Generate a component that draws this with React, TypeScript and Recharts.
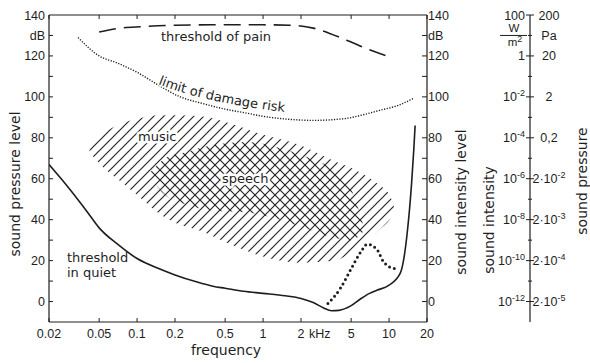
import React from 'react';
import { ComposedChart, Line, Area, XAxis, YAxis } from 'recharts';

const INK = '#1e1e1e';
const WORD_FONT = '"DejaVu Sans", sans-serif';
const NUM_FONT = '"Liberation Sans", Arial, sans-serif';

// frequency axis, kHz (log scale)
const freqTicks = [0.02, 0.05, 0.1, 0.2, 0.5, 1, 2, 5, 10, 20];
const freqLabels = ['0.02', '0.05', '0.1', '0.2', '0.5', '1', '2', '5', '10', '20'];

// level axes, dB
const levelTicks = [0, 10, 20, 30, 40, 50, 60, 70, 80, 90, 100, 110, 120, 130, 140];

// far right scale: sound intensity (W/m²) and sound pressure (Pa)
const intensityLabels = [
  { db: 140, base: '100', exp: '' },
  { db: 120, base: '1', exp: '' },
  { db: 100, base: '10', exp: '-2' },
  { db: 80, base: '10', exp: '-4' },
  { db: 60, base: '10', exp: '-6' },
  { db: 40, base: '10', exp: '-8' },
  { db: 20, base: '10', exp: '-10' },
  { db: 0, base: '10', exp: '-12' },
];
const pressureLabels = [
  { db: 140, base: '200', exp: '' },
  { db: 130, base: 'Pa', exp: '' },
  { db: 120, base: '20', exp: '' },
  { db: 100, base: '2', exp: '' },
  { db: 80, base: '0,2', exp: '' },
  { db: 60, base: '2·10', exp: '-2' },
  { db: 40, base: '2·10', exp: '-3' },
  { db: 20, base: '2·10', exp: '-4' },
  { db: 0, base: '2·10', exp: '-5' },
];

// threshold in quiet
const quietF = [0.02, 0.025, 0.03, 0.04, 0.05, 0.07, 0.1, 0.15, 0.2, 0.3, 0.4, 0.5, 0.7, 1, 1.5, 2, 2.5, 3, 3.5, 4, 5, 6, 7, 8, 10, 12.3, 13.9, 15.1, 15.7, 16.1];
const quietDb = [67, 60, 54, 44, 36, 28, 21, 16, 13, 9.5, 7.5, 6.5, 5, 4, 2.8, 1.5, -0.5, -3, -4.5, -4.3, -2, 1.5, 4, 5.5, 8, 14, 33, 58, 74, 86];

// threshold of pain
const painF = [0.05, 0.073, 0.11, 0.2, 0.4, 1, 1.63, 2.5, 4.6, 7, 10.7];
const painDb = [131.7, 133.6, 134.3, 135, 135.2, 135.2, 135, 133.6, 127.7, 123, 119];

// limit of damage risk
const damageF = [0.034, 0.05, 0.07, 0.1, 0.15, 0.22, 0.32, 0.5, 0.75, 1, 1.5, 2.5, 4.6, 6, 8.4, 12, 15.5];
const damageDb = [129, 120, 116.5, 112, 105.5, 100, 97, 94, 92, 90.5, 89.2, 88.5, 89.5, 91, 93.4, 96, 99.2];

// dotted curve near 5 kHz
const dipF = [3.27, 4.1, 5, 6, 6.7, 8, 9, 11, 11.5];
const dipDb = [-1, 6.4, 16, 24.5, 28, 25.5, 19.6, 16.2, 16.7];

// music area
const musicF = [0.042, 0.051, 0.073, 0.105, 0.15, 0.2, 0.32, 0.55, 0.94, 1.96, 3.7, 5.5, 8.3, 10.1, 11.1];
const musicLo = [73, 67, 59, 51, 43, 38.5, 34.5, 28, 22.5, 19, 20, 26, 35, 40, 44];
const musicHi = [75, 81, 86.5, 89.5, 91, 91, 90.5, 87, 82, 76.5, 68.5, 64, 57, 52, 45];

// speech area
const speechF = [0.127, 0.167, 0.24, 0.4, 0.75, 1.36, 2.36, 3.7, 5.0, 6.2];
const speechLo = [61, 52, 47.5, 44.5, 43.5, 40, 35, 31, 30, 34];
const speechHi = [63, 70, 73, 76.5, 78, 75, 70, 64, 55, 38];

const zip = (f: number[], v: number[]) => f.map((x, i) => ({ f: x, db: v[i] }));
const zipRange = (f: number[], lo: number[], hi: number[]) =>
  f.map((x, i) => ({ f: x, range: [lo[i], hi[i]] }));

const quiet = zip(quietF, quietDb);
const pain = zip(painF, painDb);
const damage = zip(damageF, damageDb);
const dip = zip(dipF, dipDb);
const music = zipRange(musicF, musicLo, musicHi);
const speech = zipRange(speechF, speechLo, speechHi);

const numText = { fontFamily: NUM_FONT, fontSize: 12.5, fill: INK };
const wordText = { fontFamily: WORD_FONT, fontSize: 13, fill: INK };
const titleText = { fontFamily: WORD_FONT, fontSize: 14, fill: INK };
// white halo so labels sit on a clear patch inside the hatching
const halo = { stroke: '#fff', strokeWidth: 5, paintOrder: 'stroke', strokeLinejoin: 'round' } as any;

const BottomTick = (props: any) => {
  const { x, y, payload } = props;
  const label = freqLabels[freqTicks.indexOf(payload.value)] ?? '';
  return (
    <g>
      <line x1={x} x2={x} y1={y} y2={y - 4} stroke={INK} />
      <text x={x} y={y + 16} textAnchor="middle" {...numText}>{label}</text>
      {label === '2' && <text x={x + 8} y={y + 16} {...numText}>kHz</text>}
    </g>
  );
};

const TopTick = (props: any) => {
  const { x, y } = props;
  return <line x1={x} x2={x} y1={y} y2={y + 4} stroke={INK} />;
};

const LeftTick = (props: any) => {
  const { x, y, payload } = props;
  const v = payload.value;
  return (
    <g>
      {v !== 140 && <line x1={x} x2={x + 4} y1={y} y2={y} stroke={INK} />}
      {v % 20 === 0 && (
        <text x={x - 4} y={y} dy="0.36em" textAnchor="end" {...numText}>{v}</text>
      )}
      {v === 130 && (
        <text x={x - 4} y={y} dy="0.36em" textAnchor="end" {...numText}>dB</text>
      )}
    </g>
  );
};

const RightTick = (props: any) => {
  const { x, y, payload } = props;
  const v = payload.value;
  return (
    <g>
      {v !== 140 && <line x1={x - 5} x2={x} y1={y} y2={y} stroke={INK} />}
      {v % 20 === 0 && (
        <text x={x + 1} y={y} dy="0.36em" {...numText}>{v}</text>
      )}
      {v === 130 && (
        <text x={x + 1} y={y} dy="0.36em" {...numText}>dB</text>
      )}
    </g>
  );
};

const Sup = ({ base, exp }: { base: string; exp: string }) => (
  <>
    {base}
    {exp && <tspan dy={-5} fontSize={9}>{exp}</tspan>}
  </>
);

const FarTick = (props: any) => {
  const { x, y, payload } = props;
  const v = payload.value;
  const major = v % 20 === 0;
  const left = intensityLabels.find((d) => d.db === v);
  const right = pressureLabels.find((d) => d.db === v);
  return (
    <g>
      <line x1={x - (major ? 4 : 2)} x2={x + (major ? 4 : 2)} y1={y} y2={y} stroke={INK} />
      {left && (
        <text x={x - 5} y={y} dy="0.36em" textAnchor="end" {...numText}>
          <Sup base={left.base} exp={left.exp} />
        </text>
      )}
      {v === 130 && (
        <g>
          <text x={x - 16} y={y - 3} textAnchor="middle" {...numText} fontSize={11.5}>W</text>
          <line x1={x - 30} x2={x - 3} y1={y} y2={y} stroke={INK} />
          <text x={x - 15} y={y + 11} textAnchor="middle" {...numText} fontSize={11.5}>
            m<tspan dy={-4} fontSize={9}>2</tspan>
          </text>
        </g>
      )}
      {right && (
        <text x={x + 19} y={y} dy="0.36em" textAnchor="middle" {...numText}>
          <Sup base={right.base} exp={right.exp} />
        </text>
      )}
    </g>
  );
};

export default function App() {
  return (
    <div style={{ position: 'absolute', left: 0, top: 0, width: 590, height: 363, background: '#fff' }}>
      <ComposedChart width={590} height={363} margin={{ top: 0, right: 0, bottom: 0, left: 0 }}>
        <defs>
          <pattern id="hatchUp" patternUnits="userSpaceOnUse" width={10} height={10}>
            <path d="M0,10 L10,0 M-2,2 L2,-2 M8,12 L12,8" stroke="#262626" strokeWidth={1.2} />
          </pattern>
          <pattern id="hatchDown" patternUnits="userSpaceOnUse" width={10} height={10}>
            <path d="M0,0 L10,10 M-2,8 L2,12 M8,-2 L12,2" stroke="#262626" strokeWidth={1.2} />
          </pattern>
        </defs>

        <XAxis
          xAxisId="b"
          dataKey="f"
          type="number"
          scale="log"
          domain={[0.02, 20]}
          allowDataOverflow
          ticks={freqTicks}
          interval={0}
          height={41}
          tickSize={0}
          tickMargin={0}
          tickLine={false}
          axisLine={{ stroke: INK, strokeWidth: 1.2 }}
          tick={(p: any) => <BottomTick {...p} />}
        />
        <XAxis
          xAxisId="t"
          orientation="top"
          dataKey="f"
          type="number"
          scale="log"
          domain={[0.02, 20]}
          allowDataOverflow
          ticks={freqTicks}
          interval={0}
          height={15}
          tickSize={0}
          tickMargin={0}
          tickLine={false}
          axisLine={{ stroke: INK, strokeWidth: 1.2 }}
          tick={(p: any) => <TopTick {...p} />}
        />
        <YAxis
          yAxisId="l"
          type="number"
          domain={[-10, 140]}
          allowDataOverflow
          ticks={levelTicks}
          interval={0}
          width={49}
          tickSize={0}
          tickMargin={0}
          tickLine={false}
          axisLine={{ stroke: INK, strokeWidth: 1.2 }}
          tick={(p: any) => <LeftTick {...p} />}
        />
        {/* far scale declared first: right axes stack so that "a" sits next to the plot */}
        <YAxis
          yAxisId="b"
          orientation="right"
          type="number"
          domain={[-10, 140]}
          allowDataOverflow
          ticks={levelTicks}
          interval={0}
          width={60}
          tickSize={0}
          tickMargin={0}
          tickLine={false}
          axisLine={{ stroke: INK, strokeWidth: 1.2 }}
          tick={(p: any) => <FarTick {...p} />}
        />
        <YAxis
          yAxisId="a"
          orientation="right"
          type="number"
          domain={[-10, 140]}
          allowDataOverflow
          ticks={levelTicks}
          interval={0}
          width={103}
          tickSize={0}
          tickMargin={0}
          tickLine={false}
          axisLine={{ stroke: INK, strokeWidth: 1.2 }}
          tick={(p: any) => <RightTick {...p} />}
        />

        <Area xAxisId="b" yAxisId="l" data={music} dataKey="range" type="monotone"
          fill="url(#hatchUp)" fillOpacity={1} stroke="none" isAnimationActive={false} />
        <Area xAxisId="b" yAxisId="l" data={speech} dataKey="range" type="monotone"
          fill="url(#hatchDown)" fillOpacity={1} stroke="none" isAnimationActive={false} />

        <Line xAxisId="b" yAxisId="l" data={quiet} dataKey="db" type="monotone"
          stroke={INK} strokeWidth={1.6} dot={false} activeDot={false} isAnimationActive={false} />
        <Line xAxisId="b" yAxisId="l" data={pain} dataKey="db" type="monotone"
          stroke={INK} strokeWidth={1.6} strokeDasharray="17 8" dot={false} activeDot={false} isAnimationActive={false} />
        <Line xAxisId="b" yAxisId="l" data={damage} dataKey="db" type="monotone"
          stroke={INK} strokeWidth={1.4} strokeDasharray="1.2 1.5" dot={false} activeDot={false} isAnimationActive={false} />
        <Line xAxisId="b" yAxisId="l" data={dip} dataKey="db" type="monotone"
          stroke={INK} strokeWidth={3} strokeDasharray="0 5" strokeLinecap="round" dot={false} activeDot={false} isAnimationActive={false} />

        <text x={226} y={355} textAnchor="middle" {...titleText}>frequency</text>
        <text x={20} y={184} transform="rotate(-90 20 184)" textAnchor="middle" {...titleText}>sound pressure level</text>
        <text x={466} y={202} transform="rotate(-90 466 202)" textAnchor="middle" {...titleText}>sound intensity level</text>
        <text x={494} y={220} transform="rotate(-90 494 220)" textAnchor="middle" {...titleText}>sound intensity</text>
        <text x={587} y={181} transform="rotate(-90 587 181)" textAnchor="middle" {...titleText}>sound pressure</text>
      </ComposedChart>

      {/* in-plot annotations, painted above the hatching */}
      <svg width={590} height={363} style={{ position: 'absolute', left: 0, top: 0, pointerEvents: 'none' }}>
        <defs>
          <path id="damagePath" d="M158,84 Q207,104 302,114" fill="none" />
        </defs>
        <text x={161} y={40.5} {...wordText} {...halo}>threshold of pain</text>
        <text {...wordText} {...halo} strokeWidth={2.5}>
          <textPath href="#damagePath">limit of damage risk</textPath>
        </text>
        <text x={138} y={141} {...wordText} {...halo}>music</text>
        <text x={222} y={182.5} {...wordText} {...halo}>speech</text>
        <text x={67} y={262} {...wordText}>threshold</text>
        <text x={67} y={277} {...wordText}>in quiet</text>
      </svg>
    </div>
  );
}
